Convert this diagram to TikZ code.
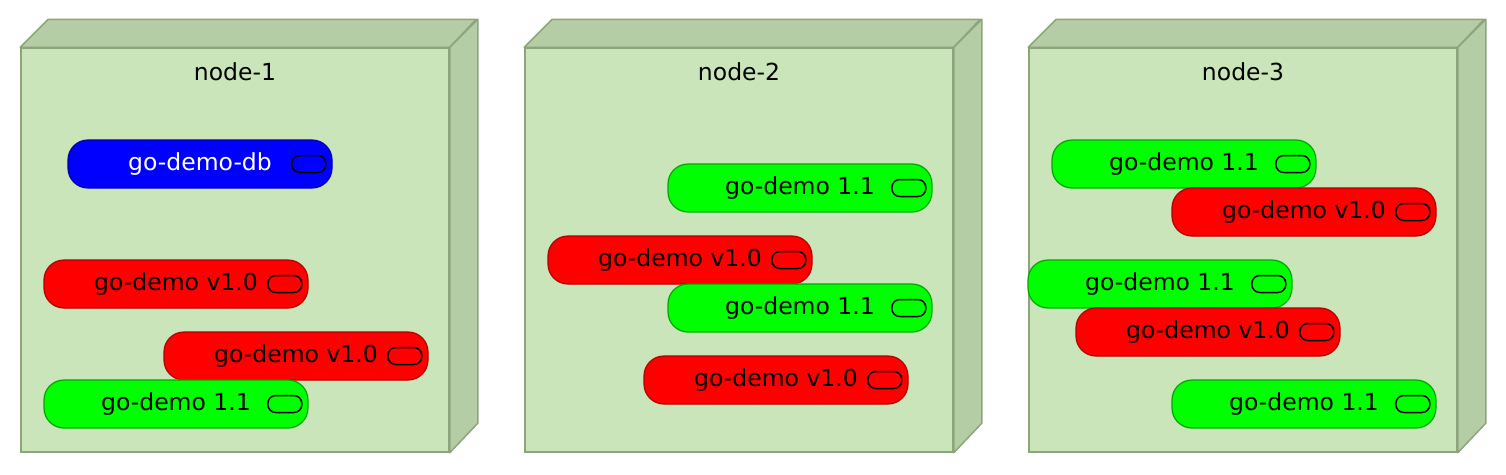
\documentclass[tikz,border=0pt]{standalone}
\usepackage{fontspec}
\setmainfont{DejaVu Sans}
\usetikzlibrary{positioning}
\definecolor{hostfront}{RGB}{201,229,185}
\definecolor{hostside}{RGB}{180,205,165}
\definecolor{hostline}{RGB}{140,165,125}
\tikzset{%
  host/.style={draw=hostline,fill=hostfront,line width=1.5pt,minimum width=428pt,minimum height=404pt,inner sep=0pt},
  hostface/.style={draw=hostline,fill=hostside,line width=1.5pt,line join=round},
  hostname/.style={font=\fontsize{23.5}{28}\selectfont},
  pod/.style={line width=1.2pt,rounded corners=20pt,minimum width=264pt,minimum height=48pt,inner sep=0pt,font=\fontsize{23.5}{28}\selectfont},
  v10/.style={pod,fill=red,draw=red!70!black},
  v11/.style={pod,fill=green,draw=green!65!black},
  db/.style={pod,fill=blue,draw=blue!65!black,text=white},
  port/.style={draw=black,line width=1.5pt,rounded corners=8pt,minimum width=34pt,minimum height=17pt,inner sep=0pt}
}

\begin{document}
\begin{tikzpicture}[x=1pt,y=-1pt]
  \useasboundingbox (0,0) rectangle (1506,474);

  % hosts
  \node[host] (h1) at (235,250) {};
  \draw[hostface] (h1.north west) -- ++(28,-28) -- ++(428,0) -- (h1.north east) -- cycle;
  \draw[hostface] (h1.north east) -- ++(28,-28) -- ++(0,404) -- (h1.south east) -- cycle;
  \node[hostname] (t1) at (235,72) {node-1};

  \node[host] (h2) at (739,250) {};
  \draw[hostface] (h2.north west) -- ++(28,-28) -- ++(428,0) -- (h2.north east) -- cycle;
  \draw[hostface] (h2.north east) -- ++(28,-28) -- ++(0,404) -- (h2.south east) -- cycle;
  \node[hostname] (t2) at (739,72) {node-2};

  \node[host] (h3) at (1243,250) {};
  \draw[hostface] (h3.north west) -- ++(28,-28) -- ++(428,0) -- (h3.north east) -- cycle;
  \draw[hostface] (h3.north east) -- ++(28,-28) -- ++(0,404) -- (h3.south east) -- cycle;
  \node[hostname] (t3) at (1243,72) {node-3};

  % node-1
  \node[db] (a) at (200,164) {go-demo-db};
  \node[port,left=6pt of a.east] {};
  \node[v10] (b) at (176,284) {go-demo v1.0};
  \node[port,left=6pt of b.east] {};
  \node[v10] (c) at (296,356) {go-demo v1.0};
  \node[port,left=6pt of c.east] {};
  \node[v11] (d) at (176,404) {go-demo 1.1};
  \node[port,left=6pt of d.east] {};

  % node-2
  \node[v11] (e) at (800,188) {go-demo 1.1};
  \node[port,left=6pt of e.east] {};
  \node[v10] (f) at (680,260) {go-demo v1.0};
  \node[port,left=6pt of f.east] {};
  \node[v11] (g) at (800,308) {go-demo 1.1};
  \node[port,left=6pt of g.east] {};
  \node[v10] (h) at (776,380) {go-demo v1.0};
  \node[port,left=6pt of h.east] {};

  % node-3
  \node[v11] (i) at (1184,164) {go-demo 1.1};
  \node[port,left=6pt of i.east] {};
  \node[v10] (j) at (1304,212) {go-demo v1.0};
  \node[port,left=6pt of j.east] {};
  \node[v11] (k) at (1160,284) {go-demo 1.1};
  \node[port,left=6pt of k.east] {};
  \node[v10] (l) at (1208,332) {go-demo v1.0};
  \node[port,left=6pt of l.east] {};
  \node[v11] (m) at (1304,404) {go-demo 1.1};
  \node[port,left=6pt of m.east] {};
\end{tikzpicture}
\end{document}
